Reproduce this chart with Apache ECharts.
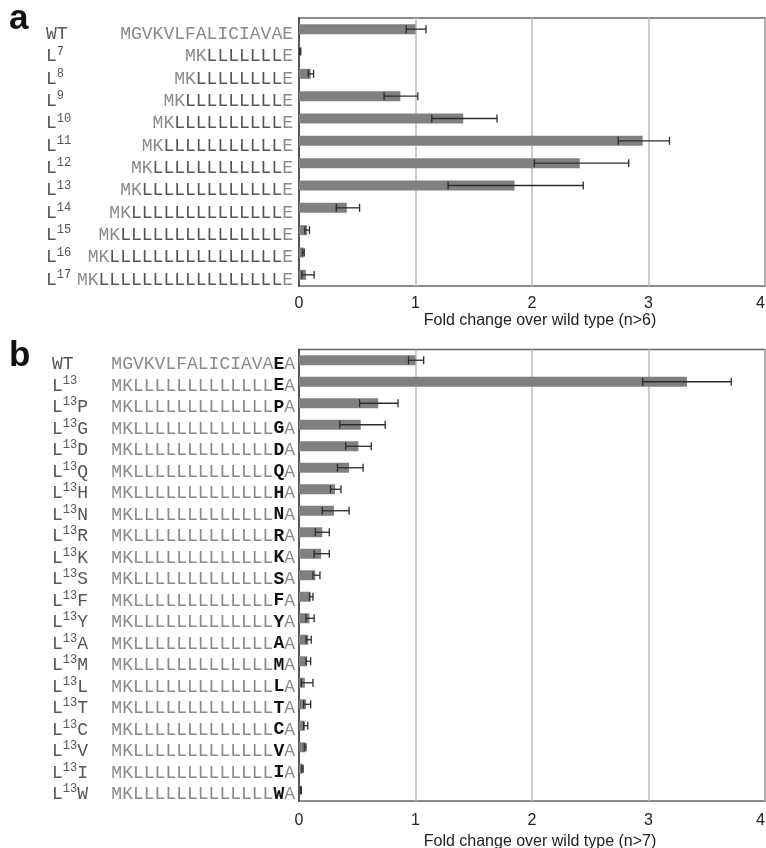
<!DOCTYPE html>
<html><head><meta charset="utf-8">
<script src="https://cdn.jsdelivr.net/npm/echarts@6/dist/echarts.min.js"></script>
<style>html,body{margin:0;padding:0;background:#fff}#c{width:766px;height:848px}</style>
</head><body><div id="c"></div>
<script>
// ---- Panel a data ----
const catsA = ['WT','L7','L8','L9','L10','L11','L12','L13','L14','L15','L16','L17'];
const seqA = [
  'MGVKVLFALICIAVAE',
  'MKLLLLLLLE',
  'MKLLLLLLLLE',
  'MKLLLLLLLLLE',
  'MKLLLLLLLLLLE',
  'MKLLLLLLLLLLLE',
  'MKLLLLLLLLLLLLE',
  'MKLLLLLLLLLLLLLE',
  'MKLLLLLLLLLLLLLLE',
  'MKLLLLLLLLLLLLLLLE',
  'MKLLLLLLLLLLLLLLLLE',
  'MKLLLLLLLLLLLLLLLLLE'
];
const valA  = [1.00, 0.01, 0.10, 0.87, 1.41, 2.95, 2.41, 1.85, 0.41, 0.07, 0.04, 0.06];
const lowA  = [0.92, 0.005, 0.08, 0.73, 1.14, 2.74, 2.02, 1.28, 0.32, 0.05, 0.03, 0.025];
const highA = [1.09, 0.015, 0.125, 1.02, 1.70, 3.18, 2.83, 2.44, 0.52, 0.09, 0.045, 0.13];

// ---- Panel b data ----
const catsB = ['WT','L13','L13P','L13G','L13D','L13Q','L13H','L13N','L13R','L13K','L13S','L13F','L13Y','L13A','L13M','L13L','L13T','L13C','L13V','L13I','L13W'];
const seqBaseB = ['MGVKVLFALICIAVA','MKLLLLLLLLLLLLL'];
const mutB = ['E','E','P','G','D','Q','H','N','R','K','S','F','Y','A','M','L','T','C','V','I','W'];
const valB  = [1.00, 3.33, 0.68, 0.53, 0.51, 0.43, 0.31, 0.30, 0.20, 0.19, 0.14, 0.10, 0.09, 0.08, 0.07, 0.05, 0.06, 0.05, 0.055, 0.03, 0.015];
const lowB  = [0.94, 2.95, 0.52, 0.35, 0.40, 0.33, 0.27, 0.20, 0.14, 0.13, 0.12, 0.09, 0.06, 0.06, 0.06, 0.02, 0.04, 0.04, 0.045, 0.025, 0.01];
const highB = [1.07, 3.71, 0.85, 0.74, 0.62, 0.55, 0.36, 0.43, 0.26, 0.26, 0.18, 0.12, 0.13, 0.105, 0.10, 0.12, 0.10, 0.075, 0.06, 0.035, 0.02];

const xTicks = [0, 1, 2, 3, 4];
const axisNameA = 'Fold change over wild type (n>6)';
const axisNameB = 'Fold change over wild type (n>7)';

const MONO = '"Liberation Mono", "DejaVu Sans Mono", monospace';
const SANS = '"Liberation Sans", Arial, sans-serif';

const richSeq = {
  g: {fontFamily: MONO, fontSize: 18, color: '#8a8a8a', lineHeight: 22},
  d: {fontFamily: MONO, fontSize: 18, color: '#555', lineHeight: 22},
  b: {fontFamily: MONO, fontSize: 18, color: '#111', fontWeight: 'bold', lineHeight: 22}
};
const richName = {
  n: {fontFamily: MONO, fontSize: 18, color: '#555', lineHeight: 22},
  s: {fontFamily: MONO, fontSize: 12, color: '#555', lineHeight: 12, verticalAlign: 'top'}
};

function fmtName(v) {
  const m = /^L(\d+)(.*)$/.exec(v);
  if (!m) return '{n|' + v + '}';
  return '{n|L}{s|' + m[1] + '}' + (m[2] ? '{n|' + m[2] + '}' : '');
}
function fmtSeqA(v, i) {
  const s = seqA[i];
  if (s.indexOf('MK') !== 0) return '{g|' + s + '}';
  return '{g|MK}{d|' + s.slice(2, s.length - 1) + '}{g|' + s.slice(-1) + '}';
}
function fmtSeqB(v, i) {
  const base = i === 0 ? seqBaseB[0] : seqBaseB[1];
  return '{g|' + base + '}{b|' + mutB[i] + '}{g|A}';
}

function errData(low, high) {
  return low.map((l, i) => [i, l, high[i]]);
}
function errRender(params, api) {
  const y = api.value(0);
  const p1 = api.coord([api.value(1), y]);
  const p2 = api.coord([api.value(2), y]);
  const h = 4;
  const st = {stroke: '#2b2b2b', lineWidth: 1.3};
  return {
    type: 'group',
    children: [
      {type: 'line', shape: {x1: p1[0], y1: p1[1], x2: p2[0], y2: p2[1]}, style: st},
      {type: 'line', shape: {x1: p1[0], y1: p1[1] - h, x2: p1[0], y2: p1[1] + h}, style: st},
      {type: 'line', shape: {x1: p2[0], y1: p2[1] - h, x2: p2[0], y2: p2[1] + h}, style: st}
    ]
  };
}

function xAxis(gi, name, margin, gap) {
  return {
    gridIndex: gi, type: 'value', min: xTicks[0], max: xTicks[xTicks.length - 1], interval: 1,
    axisLine: {show: false}, axisTick: {show: false},
    axisLabel: {fontFamily: SANS, fontSize: 16, color: '#222', margin: margin, alignMaxLabel: 'right',
      formatter: v => xTicks.indexOf(v) >= 0 ? String(v) : ''},
    splitLine: {show: true, lineStyle: {color: '#bdbdbd', width: 1.5}},
    name: name, nameLocation: 'middle', nameGap: gap,
    nameTextStyle: {fontFamily: SANS, fontSize: 16, color: '#222', padding: [0, 0, 0, 16]}
  };
}

const chart = echarts.init(document.getElementById('c'), null, {renderer: 'canvas'});
chart.setOption({
  animation: false,
  backgroundColor: '#fff',
  grid: [
    {left: 299, right: 1, top: 18, height: 268, show: true, borderColor: '#666', borderWidth: 1.5, containLabel: false, outerBoundsMode: 'none'},
    {left: 299, right: 1, top: 349.5, height: 451.5, show: true, borderColor: '#666', borderWidth: 1.5, containLabel: false, outerBoundsMode: 'none'}
  ],
  xAxis: [xAxis(0, axisNameA, 10, 27), xAxis(1, axisNameB, 12, 32)],
  yAxis: [
    {gridIndex: 0, type: 'category', data: catsA, inverse: true, position: 'left',
      axisLine: {show: true, lineStyle: {color: '#555', width: 2}}, axisTick: {show: false},
      axisLabel: {margin: 6, formatter: fmtSeqA, rich: richSeq, padding: [10, 0, 0, 0]}},
    {gridIndex: 0, type: 'category', data: catsA, inverse: true, position: 'left',
      axisLine: {show: false}, axisTick: {show: false},
      axisLabel: {margin: 253, align: 'left', formatter: fmtName, rich: richName, padding: [10, 0, 0, 0]}},
    {gridIndex: 1, type: 'category', data: catsB, inverse: true, position: 'left',
      axisLine: {show: true, lineStyle: {color: '#555', width: 2}}, axisTick: {show: false},
      axisLabel: {margin: 4, formatter: fmtSeqB, rich: richSeq, padding: [8, 0, 0, 0]}},
    {gridIndex: 1, type: 'category', data: catsB, inverse: true, position: 'left',
      axisLine: {show: false}, axisTick: {show: false},
      axisLabel: {margin: 247, align: 'left', formatter: fmtName, rich: richName, padding: [8, 0, 0, 0]}}
  ],
  series: [
    {type: 'bar', xAxisIndex: 0, yAxisIndex: 0, data: valA, barWidth: 10, itemStyle: {color: '#808080'}},
    {type: 'custom', xAxisIndex: 0, yAxisIndex: 0, data: errData(lowA, highA), renderItem: errRender, encode: {x: [1, 2], y: 0}, z: 5},
    {type: 'bar', xAxisIndex: 1, yAxisIndex: 2, data: valB, barWidth: 10, itemStyle: {color: '#808080'}},
    {type: 'custom', xAxisIndex: 1, yAxisIndex: 2, data: errData(lowB, highB), renderItem: errRender, encode: {x: [1, 2], y: 0}, z: 5}
  ],
  graphic: [
    {type: 'text', left: 9, top: 2, style: {text: 'a', font: 'bold 35px "Liberation Sans", Arial, sans-serif', fill: '#111'}},
    {type: 'text', left: 9, top: 339, style: {text: 'b', font: 'bold 35px "Liberation Sans", Arial, sans-serif', fill: '#111'}}
  ]
});
</script>
</body></html>
